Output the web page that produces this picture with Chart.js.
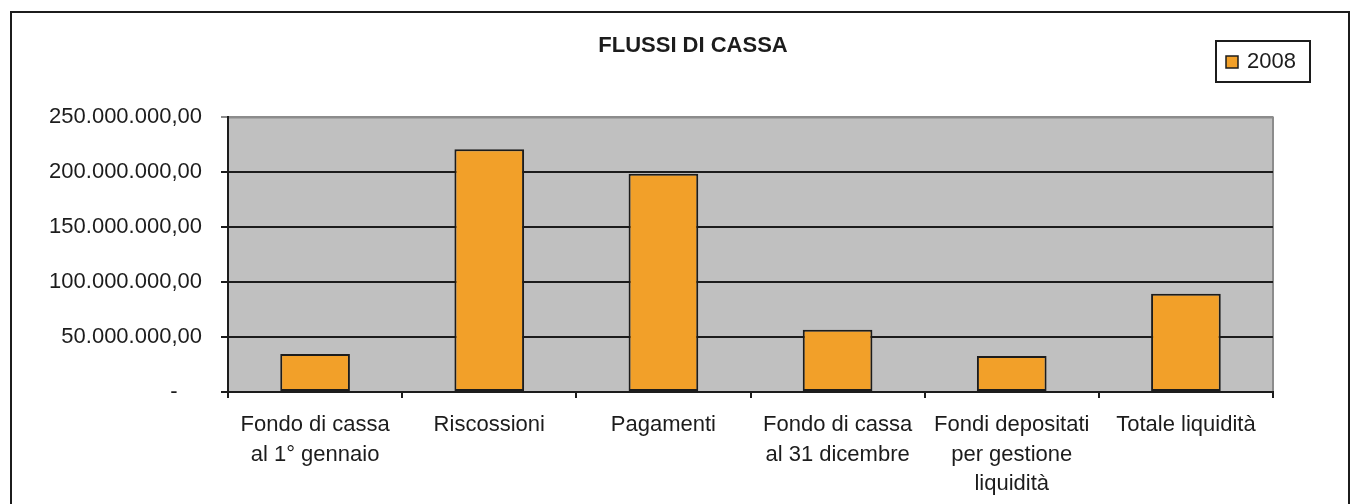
<!DOCTYPE html>
<html>
<head>
<meta charset="utf-8">
<script src="https://cdn.jsdelivr.net/npm/chart.js@4"></script>
<style>
  html, body { margin: 0; padding: 0; background: #ffffff; overflow: hidden; }
  #wrap { position: relative; width: 1360px; height: 504px; }
  #frame { position: absolute; left: 10px; top: 11px; width: 1340px; height: 600px; border: 2px solid #1c1c1c; box-sizing: border-box; }
  canvas { position: absolute; left: 0; top: 0; }
</style>
</head>
<body>
<div id="wrap">
  <div id="frame"></div>
  <canvas id="c" width="1360" height="504"></canvas>
</div>
<script>
const chartTitle = 'FLUSSI DI CASSA';
const seriesName = '2008';
const categories = [
  ['Fondo di cassa', 'al 1° gennaio'],
  ['Riscossioni'],
  ['Pagamenti'],
  ['Fondo di cassa', 'al 31 dicembre'],
  ['Fondi depositati', 'per gestione', 'liquidità'],
  ['Totale liquidità']
];
const values2008 = [34500000, 221000000, 198800000, 56700000, 32700000, 89400000];
const yTickValues = [0, 50000000, 100000000, 150000000, 200000000, 250000000];
const yTickLabels = ['-    ', '50.000.000,00', '100.000.000,00', '150.000.000,00', '200.000.000,00', '250.000.000,00'];

const FONT = '"Liberation Sans", Arial, sans-serif';
const TEXT = '#1c1c1c';
const BAR = '#F2A029';
const DARK = '#1c1c1c';

const plotBg = {
  id: 'plotBg',
  beforeDraw(chart) {
    const {ctx, chartArea: a} = chart;
    ctx.save();
    ctx.fillStyle = '#c0c0c0';
    ctx.fillRect(a.left, a.top, a.right - a.left, a.bottom - a.top);
    ctx.strokeStyle = '#8c8c8c';
    ctx.lineWidth = 2;
    ctx.beginPath();
    ctx.moveTo(a.left, a.top);
    ctx.lineTo(a.right, a.top);
    ctx.lineTo(a.right, a.bottom);
    ctx.stroke();
    ctx.restore();
  }
};

const boxLegend = {
  id: 'boxLegend',
  afterDraw(chart) {
    const {ctx} = chart;
    const ds = chart.data.datasets[0];
    ctx.save();
    const x = 1216, y = 41, w = 94, h = 41;
    ctx.fillStyle = '#ffffff';
    ctx.fillRect(x, y, w, h);
    ctx.strokeStyle = DARK;
    ctx.lineWidth = 2;
    ctx.strokeRect(x, y, w, h);
    ctx.fillStyle = ds.backgroundColor;
    ctx.fillRect(x + 10, y + 15, 12, 12);
    ctx.lineWidth = 1.5;
    ctx.strokeStyle = ds.borderColor;
    ctx.strokeRect(x + 10, y + 15, 12, 12);
    ctx.fillStyle = TEXT;
    ctx.font = '22px ' + FONT;
    ctx.textBaseline = 'middle';
    ctx.textAlign = 'left';
    ctx.fillText(ds.label, x + 31, y + 21);
    ctx.restore();
  }
};

new Chart(document.getElementById('c'), {
  type: 'bar',
  data: {
    labels: categories,
    datasets: [{
      label: seriesName,
      data: values2008,
      backgroundColor: BAR,
      borderColor: DARK,
      borderWidth: 2,
      borderSkipped: false,
      categoryPercentage: 1.0,
      barPercentage: 0.4
    }]
  },
  options: {
    responsive: false,
    animation: false,
    devicePixelRatio: 1,
    layout: { padding: { left: 30, right: 4, top: 0, bottom: 0 } },
    plugins: {
      legend: { display: false },
      tooltip: { enabled: false },
      title: {
        display: true,
        text: chartTitle,
        color: TEXT,
        font: { family: FONT, size: 22, weight: 'bold', lineHeight: 1.2 },
        padding: { top: 33, bottom: 58 }
      }
    },
    scales: {
      x: {
        offset: true,
        grid: { offset: true, drawOnChartArea: false, drawTicks: true, tickLength: 6, color: DARK, lineWidth: 2 },
        border: { display: true, color: DARK, width: 2 },
        ticks: {
          color: TEXT,
          font: { family: FONT, size: 22, lineHeight: 1.35 },
          padding: 12,
          maxRotation: 0,
          autoSkip: false
        },
        afterFit(scale) { scale.height = 112; }
      },
      y: {
        min: 0,
        max: 250000000,
        afterBuildTicks(scale) { scale.ticks = yTickValues.map(v => ({ value: v })); },
        grid: {
          color: ctx => (ctx.tick && ctx.tick.value === 250000000 ? '#8c8c8c' : DARK),
          lineWidth: 2,
          tickLength: 7,
          drawTicks: true
        },
        border: { display: true, color: DARK, width: 2 },
        ticks: {
          color: TEXT,
          font: { family: FONT, size: 22 },
          padding: 19,
          callback: (v, i) => yTickLabels[yTickValues.indexOf(v)]
        },
        afterFit(scale) { scale.width = 198; }
      },
      spacer: {
        type: 'linear',
        position: 'right',
        display: true,
        grid: { display: false, drawTicks: false },
        border: { display: false },
        ticks: { display: false },
        afterFit(scale) { scale.width = 83; }
      }
    }
  },
  plugins: [plotBg, boxLegend]
});
</script>
</body>
</html>
